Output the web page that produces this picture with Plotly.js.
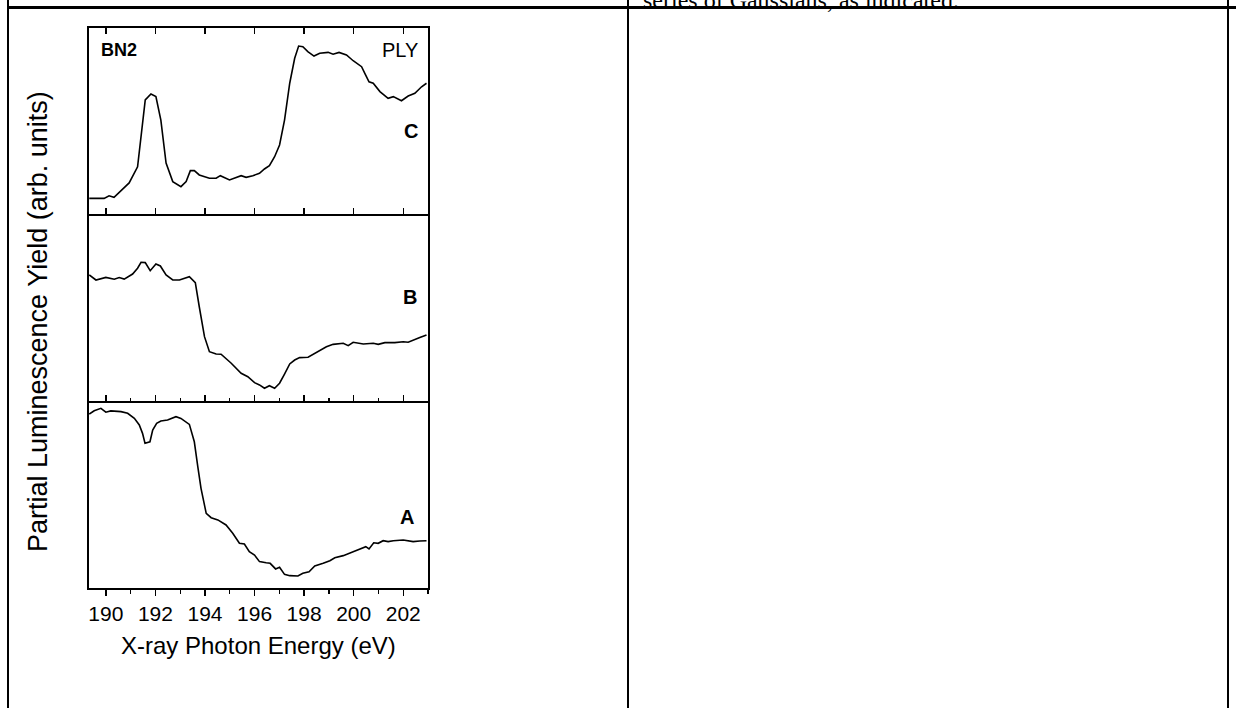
<!DOCTYPE html>
<html>
<head>
<meta charset="utf-8">
<script src="https://cdn.plot.ly/plotly-3.0.1.min.js"></script>
<style>html,body{margin:0;padding:0;background:#fff;}#chart{width:1236px;height:708px;}</style>
</head>
<body>
<div id="chart"></div>
<script>
// Panel C (top)
const energyC = [189.33,189.93,190.13,190.33,190.53,190.94,191.28,191.59,191.82,192.02,192.22,192.43,192.70,193.03,193.24,193.41,193.57,193.77,194.18,194.45,194.62,194.99,195.46,195.66,195.93,196.20,196.40,196.60,196.81,197.01,197.21,197.42,197.62,197.78,197.95,198.15,198.40,198.63,198.97,199.17,199.41,199.71,199.98,200.32,200.45,200.62,200.79,201.06,201.39,201.60,201.93,202.20,202.47,202.74,202.94];
const yieldC  = [8.4,8.4,9.8,9.0,11.5,16.7,25.4,61.3,64.5,63.1,50.5,27.4,17.4,14.7,17.4,23.3,23.3,21.0,19.2,19.2,20.6,18.3,20.6,19.7,20.6,21.9,24.2,26.0,30.8,37.1,50.5,70.3,83.7,90.3,89.9,87.3,84.9,86.4,86.9,85.9,86.9,85.5,82.4,79.2,75.6,71.1,70.3,65.8,62.2,63.1,60.9,63.4,64.9,68.4,70.3];
// Panel B (middle)
const energyB = [189.33,189.60,190.00,190.34,190.54,190.74,191.08,191.28,191.42,191.59,191.79,192.02,192.20,192.43,192.70,192.97,193.37,193.61,193.77,193.98,194.18,194.45,194.65,195.06,195.46,195.73,196.00,196.20,196.40,196.60,196.81,197.01,197.21,197.42,197.62,197.82,198.16,198.36,198.63,198.90,199.17,199.58,199.78,199.98,200.39,200.79,200.99,201.26,201.66,202.00,202.20,202.40,202.67,202.94];
const yieldB  = [67.4,64.7,66.1,65.1,66.0,65.2,67.9,71.0,74.2,74.0,69.7,73.3,72.2,67.4,64.7,64.7,66.5,63.3,50.4,34.4,26.4,25.1,25.0,20.2,14.8,13.0,9.8,8.6,6.8,8.2,6.8,9.5,14.4,19.8,21.9,23.2,23.4,25.0,27.3,29.0,30.3,30.9,29.6,31.4,30.5,30.9,30.3,31.2,31.2,31.7,31.4,32.6,33.9,35.3];
// Panel A (bottom)
const energyA = [189.33,189.53,189.80,190.00,190.20,190.61,190.88,191.15,191.35,191.48,191.58,191.78,191.89,192.05,192.22,192.49,192.83,193.03,193.37,193.57,193.71,193.84,194.05,194.25,194.52,194.85,195.12,195.39,195.59,195.79,196.00,196.20,196.47,196.63,196.85,197.01,197.21,197.42,197.75,197.95,198.20,198.43,198.77,199.04,199.24,199.58,199.98,200.32,200.49,200.62,200.81,200.99,201.19,201.39,201.60,202.00,202.40,202.67,202.94];
const yieldA  = [93.0,94.8,96.1,94.0,94.7,94.3,93.4,90.7,87.2,82.7,77.4,78.2,84.5,88.1,89.3,89.8,91.6,90.7,87.5,78.2,64.9,53.3,39.9,37.6,36.4,33.7,29.3,23.9,23.5,19.4,17.6,14.1,13.5,13.2,10.2,11.1,7.3,6.6,6.4,7.9,8.7,11.8,13.2,14.6,16.2,17.3,19.4,21.2,22.1,20.9,24.2,23.9,25.3,24.8,25.3,25.7,24.8,25.1,25.3];

const panelLabels = ["A","B","C"];
const xTickVals = [190,192,194,196,198,200,202];
const xTickText = ["190","192","194","196","198","200","202"];
const xTitle = "X-ray Photon Energy (eV)";
const yTitle = "Partial Luminescence Yield (arb. units)";
const sampleLabel = "BN2";
const modeLabel = "PLY";
const captionText = "series of Gaussians, as indicated.";

const W = 1236, H = 708;
const px = v => v / W;
const py = v => 1 - v / H;
const FONT = "Liberation Sans, Arial, Helvetica, sans-serif";

const lineStyle = {color: "#000", width: 1.6};
const traces = [
  {x: energyA, y: yieldA, xaxis: "x", yaxis: "y", mode: "lines", line: lineStyle, hoverinfo: "skip"},
  {x: energyB, y: yieldB, xaxis: "x2", yaxis: "y2", mode: "lines", line: lineStyle, hoverinfo: "skip"},
  {x: energyC, y: yieldC, xaxis: "x3", yaxis: "y3", mode: "lines", line: lineStyle, hoverinfo: "skip"}
];

const xDom = [px(89), px(428)];
const yDomA = [py(588), py(401)];
const yDomB = [py(401), py(214)];
const yDomC = [py(214), py(28)];
const xRange = [189.32, 203.0];

const baseX = {
  range: xRange, domain: xDom, showgrid: false, zeroline: false,
  showline: true, linecolor: "#000", linewidth: 1.6,
  tickcolor: "#000", tickwidth: 1.3, ticklen: 6,
  tickvals: xTickVals, ticktext: xTickText,
  tickfont: {family: FONT, size: 21, color: "#000"}
};
const baseY = {
  range: [0, 100], showgrid: false, zeroline: false, showticklabels: false,
  ticks: "", showline: true, mirror: true, linecolor: "#000", linewidth: 1.6
};

const layout = {
  width: W, height: H,
  margin: {l: 0, r: 0, t: 0, b: 0},
  paper_bgcolor: "#fff", plot_bgcolor: "rgba(0,0,0,0)",
  showlegend: false,
  font: {family: FONT, color: "#000"},
  xaxis: Object.assign({}, baseX, {anchor: "y", ticks: "outside", mirror: false, showticklabels: true, ticklabelstandoff: 0,
    minor: {dtick: 1, tick0: 189, ticks: "outside", ticklen: 4, tickcolor: "#000", tickwidth: 1.3}}),
  xaxis2: Object.assign({}, baseX, {anchor: "y2", matches: "x", ticks: "inside", mirror: false, showticklabels: false,
    minor: {dtick: 1, tick0: 189, ticks: "inside", ticklen: 3.5, tickcolor: "#000", tickwidth: 1.3}}),
  xaxis3: Object.assign({}, baseX, {anchor: "y3", matches: "x", ticks: "inside", mirror: "ticks", showticklabels: false}),
  yaxis: Object.assign({}, baseY, {domain: yDomA, anchor: "x"}),
  yaxis2: Object.assign({}, baseY, {domain: yDomB, anchor: "x2"}),
  yaxis3: Object.assign({}, baseY, {domain: yDomC, anchor: "x3"}),
  annotations: [
    {text: xTitle, xref: "paper", yref: "paper", x: px(258), y: py(645), xanchor: "center", yanchor: "middle",
     showarrow: false, font: {family: FONT, size: 24, color: "#000"}},
    {text: yTitle, xref: "paper", yref: "paper", x: px(38), y: py(322), xanchor: "center", yanchor: "middle",
     textangle: -90, showarrow: false, font: {family: FONT, size: 27, color: "#000"}},
    {text: "<b>" + sampleLabel + "</b>", xref: "paper", yref: "paper", x: px(99), y: py(50), xanchor: "left", yanchor: "middle",
     showarrow: false, font: {family: FONT, size: 18, color: "#000"}},
    {text: modeLabel, xref: "paper", yref: "paper", x: px(420), y: py(50), xanchor: "right", yanchor: "middle",
     showarrow: false, font: {family: FONT, size: 20, color: "#000"}},
    {text: "<b>" + panelLabels[2] + "</b>", xref: "paper", yref: "paper", x: px(411), y: py(131), xanchor: "center", yanchor: "middle",
     showarrow: false, font: {family: FONT, size: 20, color: "#000"}},
    {text: "<b>" + panelLabels[1] + "</b>", xref: "paper", yref: "paper", x: px(410), y: py(297), xanchor: "center", yanchor: "middle",
     showarrow: false, font: {family: FONT, size: 20, color: "#000"}},
    {text: "<b>" + panelLabels[0] + "</b>", xref: "paper", yref: "paper", x: px(407), y: py(517), xanchor: "center", yanchor: "middle",
     showarrow: false, font: {family: FONT, size: 20, color: "#000"}},
    {text: captionText, xref: "paper", yref: "paper", x: px(641), y: py(15), xanchor: "left", yanchor: "bottom",
     showarrow: false, font: {family: "Liberation Serif, Times New Roman, serif", size: 24, color: "#000"}}
  ],
  shapes: [
    {type: "line", xref: "paper", yref: "paper", x0: px(7), x1: 1, y0: py(7.5), y1: py(7.5), line: {color: "#000", width: 3}},
    {type: "line", xref: "paper", yref: "paper", x0: px(8), x1: px(8), y0: 0, y1: 1, line: {color: "#000", width: 2}},
    {type: "line", xref: "paper", yref: "paper", x0: px(628), x1: px(628), y0: 0, y1: 1, line: {color: "#000", width: 2}},
    {type: "line", xref: "paper", yref: "paper", x0: px(1228), x1: px(1228), y0: 0, y1: 1, line: {color: "#000", width: 2}}
  ]
};

Plotly.newPlot("chart", traces, layout, {staticPlot: true, displayModeBar: false});
</script>
</body>
</html>
